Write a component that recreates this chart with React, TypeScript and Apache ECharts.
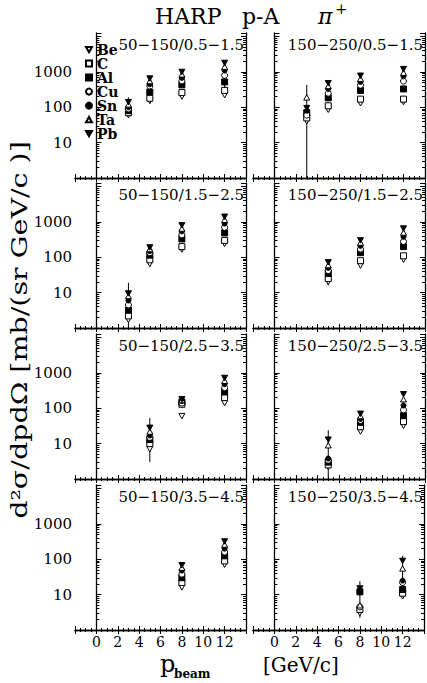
import React, { useEffect, useRef } from 'react';
import * as echarts from 'echarts';

const FONT = 'DejaVu Serif';

const targets = ['Be', 'C', 'Al', 'Cu', 'Sn', 'Ta', 'Pb'];
const panelLabels = [
  '50−150/0.5−1.5', '150−250/0.5−1.5',
  '50−150/1.5−2.5', '150−250/1.5−2.5',
  '50−150/2.5−3.5', '150−250/2.5−3.5',
  '50−150/3.5−4.5', '150−250/3.5−4.5',
];
const xTickLabels = ['0', '2', '4', '6', '8', '10', '12'];
const yTickLabels = ['10', '100', '1000'];

// rows = targets (Be, C, Al, Cu, Sn, Ta, Pb), columns = beam momenta
const beamA = [3, 5, 8, 12];
const xsA = [
  [60, 150, 200, 220],
  [70, 180, 260, 300],
  [80, 270, 430, 520],
  [90, 400, 560, 800],
  [100, 450, 680, 1100],
  [120, 550, 850, 1400],
  [140, 650, 1000, 1800],
];
const errA = [[3, 50, 190], [12, 190, 2100]];

const beamB = [3, 5, 8, 12];
const xsB = [
  [40, 85, 130, 140],
  [50, 110, 170, 170],
  [70, 185, 300, 330],
  [60, 250, 420, 550],
  [80, 330, 520, 750],
  [190, 400, 640, 950],
  [95, 480, 780, 1200],
];
const errB = [[3, 0.5, 430]];

const beamC = [3, 5, 8, 12];
const xsC = [
  [1.7, 65, 165, 240],
  [2.2, 85, 200, 300],
  [3.2, 115, 330, 490],
  [4.5, 135, 430, 700],
  [6, 150, 540, 900],
  [8, 170, 650, 1150],
  [9.5, 190, 800, 1400],
];
const errC = [[3, 0.5, 19]];

const beamD = [5, 8, 12];
const xsD = [
  [20, 58, 85],
  [25, 80, 110],
  [35, 135, 200],
  [42, 170, 280],
  [50, 210, 380],
  [60, 260, 500],
  [72, 300, 650],
];
const errD = [[5, 16, 85]];

const beamE = [5, 8, 12];
const xsE = [
  [7, 60, 140],
  [10, 130, 200],
  [13, 150, 290],
  [15, 140, 380],
  [17, 160, 480],
  [22, 170, 600],
  [28, 180, 720],
];
const errE = [[5, 3, 53]];

const beamF = [5, 8, 12];
const xsF = [
  [2.2, 22, 32],
  [2.5, 30, 42],
  [3, 40, 62],
  [3.4, 45, 90],
  [3.8, 50, 120],
  [9, 60, 180],
  [13, 70, 250],
];
const errF = [[5, 0.5, 24]];

const beamG = [8, 12];
const xsG = [
  [16, 70],
  [22, 90],
  [30, 125],
  [38, 160],
  [48, 200],
  [58, 260],
  [68, 320],
];
const errG = [[8, 14, 80]];

const beamH = [8, 12];
const xsH = [
  [3, 9],
  [3.8, 11],
  [12, 14],
  [4.5, 22],
  [13, 25],
  [5, 55],
  [15, 90],
];
const errH = [[8, 2.2, 24], [12, 7.6, 125]];

const panels = [
  { beam: beamA, xs: xsA, err: errA },
  { beam: beamB, xs: xsB, err: errB },
  { beam: beamC, xs: xsC, err: errC },
  { beam: beamD, xs: xsD, err: errD },
  { beam: beamE, xs: xsE, err: errE },
  { beam: beamF, xs: xsF, err: errF },
  { beam: beamG, xs: xsG, err: errG },
  { beam: beamH, xs: xsH, err: errH },
];

const DOWN_TRI = 'path://M0,0L10,0L5,9Z';
const UP_TRI = 'path://M5,0L10,9L0,9Z';

// marker styles per target
const markers = [
  { symbol: DOWN_TRI, filled: false, size: 6 },
  { symbol: 'rect', filled: false, size: 6 },
  { symbol: 'rect', filled: true, size: 6 },
  { symbol: 'circle', filled: false, size: 6 },
  { symbol: 'circle', filled: true, size: 5 },
  { symbol: UP_TRI, filled: false, size: 6 },
  { symbol: DOWN_TRI, filled: true, size: 6 },
];

const colLeft = [75, 253];
const colWidth = [171, 172];
const rowTop = [33, 183, 334, 485];
const rowHeight = 145;
const Y_MIN = 1;
const Y_MAX = 12600;

function minorLogTicks(): number[] {
  const out: number[] = [];
  for (let k = 0; k < 5; k++) {
    for (let m = 2; m <= 9; m++) {
      const v = Math.log10(m * Math.pow(10, k));
      if (v < Math.log10(Y_MAX)) out.push(v);
    }
  }
  return out;
}

function buildOption() {
  const grid: any[] = [];
  const xAxis: any[] = [];
  const yAxis: any[] = [];
  const series: any[] = [];
  const graphic: any[] = [];
  const minor = minorLogTicks();
  const line = { show: true, lineStyle: { color: '#000', width: 1.3 } };

  panels.forEach((p, i) => {
    const row = Math.floor(i / 2);
    const col = i % 2;
    const left = colLeft[col];
    const width = colWidth[col];
    const top = rowTop[row];
    grid.push({ left, top, width, height: rowHeight, containLabel: false });

    const xBase = {
      type: 'value', gridIndex: i, min: -2, max: 14, interval: 2,
      axisLine: line,
      axisTick: { show: true, inside: true, length: 4, lineStyle: { color: '#000', width: 1 } },
      minorTick: { show: true, splitNumber: 4, length: 2, lineStyle: { color: '#000', width: 1 } },
      splitLine: { show: false }, minorSplitLine: { show: false },
    };
    xAxis.push({
      ...xBase, position: 'bottom',
      axisLabel: {
        show: row === 3, color: '#000', fontFamily: FONT, fontSize: 14, margin: 5,
        formatter: (v: number) => (xTickLabels.includes(String(v)) ? String(v) : ''),
      },
    });
    xAxis.push({ ...xBase, position: 'top', axisLabel: { show: false } });

    const yLog = {
      type: 'log', logBase: 10, gridIndex: i, min: Y_MIN, max: Y_MAX,
      axisLine: line,
      axisTick: { show: true, inside: true, length: 5, lineStyle: { color: '#000', width: 1 } },
      splitLine: { show: false },
    };
    const yMinor = {
      type: 'value', gridIndex: i, min: 0, max: Math.log10(Y_MAX),
      axisLine: { show: false },
      axisTick: { show: true, inside: true, length: 3, customValues: minor, lineStyle: { color: '#000', width: 1 } },
      axisLabel: { show: false }, splitLine: { show: false },
    };
    yAxis.push({
      ...yLog, position: 'left',
      axisLabel: {
        show: col === 0, color: '#000', fontFamily: FONT, fontSize: 15, margin: 3,
        formatter: (v: number) => {
          const s = String(Math.round(v));
          return yTickLabels.includes(s) ? s : '';
        },
      },
    });
    yAxis.push({ ...yMinor, position: 'left' });
    yAxis.push({ ...yLog, position: 'right', axisLabel: { show: false } });
    yAxis.push({ ...yMinor, position: 'right' });

    series.push({
      type: 'custom', xAxisIndex: 2 * i, yAxisIndex: 4 * i, clip: true, silent: true, z: 1,
      encode: { x: 0, y: [1, 2] },
      data: p.err,
      renderItem: (params: any, api: any) => {
        const a = api.coord([api.value(0), api.value(1)]);
        const b = api.coord([api.value(0), api.value(2)]);
        return {
          type: 'line',
          shape: { x1: a[0], y1: a[1], x2: b[0], y2: b[1] },
          style: { stroke: '#000', lineWidth: 1 },
        };
      },
    });

    targets.forEach((name, t) => {
      const m = markers[t];
      series.push({
        type: 'scatter', name, xAxisIndex: 2 * i, yAxisIndex: 4 * i, z: 3,
        symbol: m.symbol, symbolSize: m.size, symbolKeepAspect: true,
        itemStyle: {
          color: m.filled ? '#000' : '#fff', borderColor: '#000', borderWidth: 1, opacity: 1,
        },
        data: p.beam.map((b, k) => [b, p.xs[t][k]]),
      });
    });

    graphic.push({
      type: 'text', x: left + width - 2, y: top + 12, silent: true,
      style: {
        text: panelLabels[i], fill: '#000', font: `15px "${FONT}"`,
        align: 'right', verticalAlign: 'middle',
      },
    });
  });

  // title
  graphic.push({ type: 'text', x: 155, y: 16, style: { text: 'HARP', fill: '#000', font: `22px "${FONT}"`, align: 'left', verticalAlign: 'middle' } });
  graphic.push({ type: 'text', x: 242, y: 16, style: { text: 'p-A', fill: '#000', font: `22px "${FONT}"`, align: 'left', verticalAlign: 'middle' } });
  graphic.push({ type: 'text', x: 318, y: 16, style: { text: 'π', fill: '#000', font: `italic 22px "${FONT}"`, align: 'left', verticalAlign: 'middle' } });
  graphic.push({ type: 'text', x: 335, y: 9, style: { text: '+', fill: '#000', font: `15px "${FONT}"`, align: 'left', verticalAlign: 'middle' } });

  // y axis name
  graphic.push({
    type: 'text', x: 19, y: 330, rotation: Math.PI / 2, scaleX: 1.24,
    style: { text: 'd²σ/dpdΩ [mb/(sr GeV/c )]', fill: '#000', font: `23px "${FONT}"`, align: 'center', verticalAlign: 'middle' },
  });
  // x axis name
  graphic.push({ type: 'text', x: 160, y: 664, style: { text: 'p', fill: '#000', font: `24px "${FONT}"`, align: 'left', verticalAlign: 'middle' } });
  graphic.push({ type: 'text', x: 174, y: 674, style: { text: 'beam', fill: '#000', font: `bold 12px "${FONT}"`, align: 'left', verticalAlign: 'middle' } });
  graphic.push({ type: 'text', x: 263, y: 665, style: { text: '[GeV/c]', fill: '#000', font: `20px "${FONT}"`, align: 'left', verticalAlign: 'middle' } });

  return {
    animation: false,
    backgroundColor: '#fff',
    grid, xAxis, yAxis, series, graphic,
    legend: {
      data: targets, orient: 'vertical', left: 80, top: 37.6,
      itemWidth: 6, itemHeight: 6, itemGap: 0, selectedMode: false,
      textStyle: { color: '#000', fontFamily: FONT, fontSize: 14, fontWeight: 'bold', lineHeight: 10.7 },
    },
  };
}

export default function App() {
  const ref = useRef<HTMLDivElement>(null);
  useEffect(() => {
    document.body.style.margin = '0';
    const chart = echarts.init(ref.current!, null, { renderer: 'svg' });
    chart.setOption(buildOption() as any);
    return () => chart.dispose();
  }, []);
  return <div ref={ref} style={{ width: 427, height: 683 }} />;
}
